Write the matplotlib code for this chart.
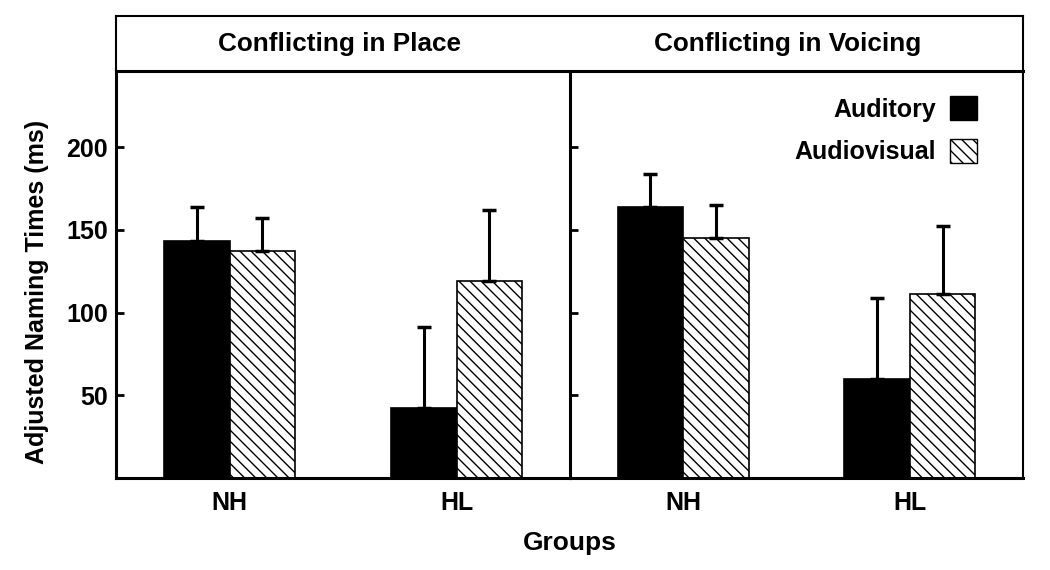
import matplotlib.pyplot as plt
import numpy as np
from matplotlib.patches import Patch

plt.rcParams['font.family'] = ['Liberation Sans', 'DejaVu Sans']
plt.rcParams['font.weight'] = 'bold'
plt.rcParams['hatch.linewidth'] = 1.0

groups = ['NH', 'HL']
panels = ['Conflicting in Place', 'Conflicting in Voicing']
auditory = [[143, 42.5], [164, 60]]
auditory_err = [[21, 49], [20, 49]]
audiovisual = [[137, 119], [145, 111.5]]
audiovisual_err = [[20, 43], [20, 41]]

fig = plt.figure(figsize=(10.5, 5.7), dpi=100)
ax1 = fig.add_axes([0.1105, 0.1614, 0.4324, 0.714])
ax2 = fig.add_axes([0.5429, 0.1614, 0.4314, 0.714], sharey=ax1)
head = fig.add_axes([0.1105, 0.8754, 0.8638, 0.0965])

x = np.arange(len(groups))
w = 0.29
err_kw = dict(ecolor='black', elinewidth=2.2, capsize=5, capthick=2.5)

for i, ax in enumerate([ax1, ax2]):
    ax.bar(x - w / 2, auditory[i], w, color='black', edgecolor='black', linewidth=1.2,
           yerr=[[0, 0], auditory_err[i]], error_kw=err_kw, label='Auditory')
    ax.bar(x + w / 2, audiovisual[i], w, color='white', edgecolor='black', linewidth=1.2,
           hatch='\\\\\\', yerr=[[0, 0], audiovisual_err[i]], error_kw=err_kw, label='Audiovisual')
    ax.set_xlim(-0.5, 1.5)
    ax.set_xticks(x)
    ax.set_xticklabels(groups, fontsize=18, fontweight='bold')
    ax.tick_params(axis='x', length=0, pad=9)
    ax.tick_params(axis='y', direction='in', length=6, width=2, labelsize=18, pad=6)
    for s in ax.spines.values():
        s.set_linewidth(2.2)
    ax.spines['top'].set_visible(False)

ax1.set_ylim(0, 246)
ax1.set_yticks([50, 100, 150, 200])
ax1.spines['right'].set_visible(False)
ax1.set_ylabel('Adjusted Naming Times (ms)', fontsize=18, fontweight='bold')
ax1.yaxis.set_label_coords(-0.148, 0.457)
ax2.tick_params(axis='y', labelleft=False)
ax2.spines['right'].set_linewidth(1.5)

handles = [Patch(facecolor='black', edgecolor='black'),
           Patch(facecolor='white', edgecolor='black', hatch='\\\\\\')]
ax2.legend(handles, ['Auditory', 'Audiovisual'], loc='upper right', frameon=False,
           markerfirst=False, prop={'size': 18, 'weight': 'bold'},
           handlelength=1.1, handleheight=1.1, handletextpad=0.55, labelspacing=0.68,
           borderaxespad=0, bbox_to_anchor=(0.921, 0.963))

fig.text(0.5429, 0.047, 'Groups', ha='center', va='center', fontsize=19, fontweight='bold')

head.set_xticks([])
head.set_yticks([])
for s in head.spines.values():
    s.set_linewidth(1.5)
head.spines['bottom'].set_linewidth(2.2)
head.text(0.246, 0.5, panels[0], ha='center', va='center', fontsize=18.8, fontweight='bold',
          transform=head.transAxes)
head.text(0.741, 0.5, panels[1], ha='center', va='center', fontsize=18.8, fontweight='bold',
          transform=head.transAxes)

fig.savefig('out.png', dpi=100)
